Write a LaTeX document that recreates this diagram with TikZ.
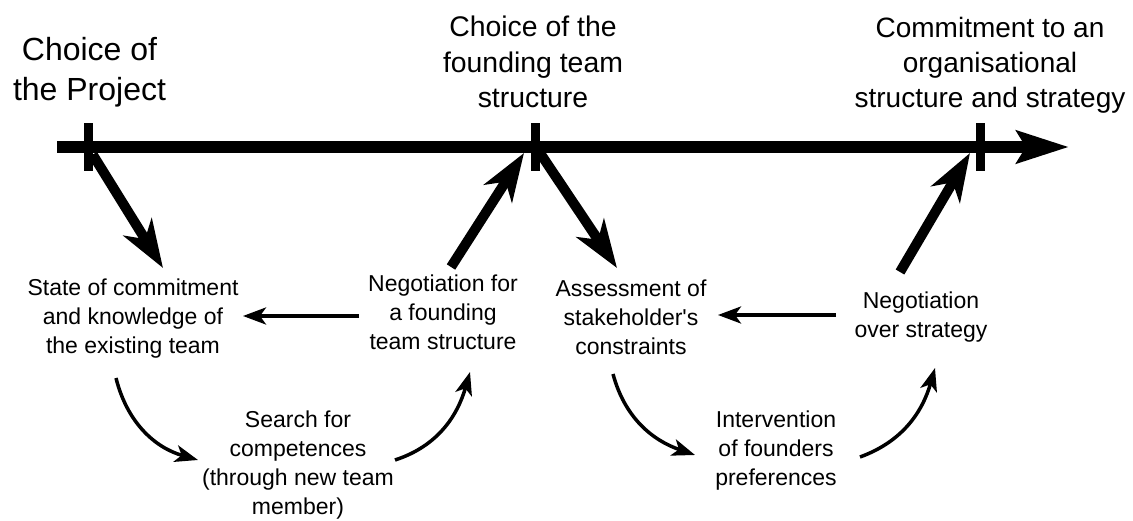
\documentclass[tikz,border=0pt]{standalone}
\usepackage{fontspec}
\setmainfont{Liberation Sans}
\usetikzlibrary{
  arrows.meta,
  chains,
  scopes
}
\begin{document}
\begin{tikzpicture}[
      x=1pt,y=1pt,
      stage/.style={
         align=center,
         inner sep=0pt,
         font=\fontsize{28.4}{35.6}\selectfont
      },
      activity/.style={
         align=center,
         inner sep=0pt,
         font=\fontsize{23}{29}\selectfont
      },
      tick/.style={
         rectangle,
         fill=black,
         inner sep=0pt,
         minimum width=9pt,
         minimum height=48pt
      },
      point/.style={coordinate},
      timeline/.style={line width=12pt,-{Stealth[length=52pt,width=32pt,inset=9pt]}},
      big tip/.style={line width=10pt,-{Stealth[length=48pt,width=33pt,inset=14pt]}},
      tip/.style={line width=3.5pt,-{Stealth[length=23pt,width=17pt,inset=6pt]}},
    ]
    \path[fill=white] (0,0) rectangle (1133,520);
    \useasboundingbox (0,0) rectangle (1133,520);
    % stages on the time line
    \node (n11) [stage,font=\fontsize{32}{39.7}\selectfont] at (89.5,447.5) {Choice of\\the Project};
    \node (n12) [stage] at (533,458) {Choice of the\\founding team\\structure};
    \node (n13) [stage,font=\fontsize{28}{35}\selectfont] at (990,455.2) {Commitment to an\\organisational\\structure and strategy};
    \node (n20) [point] at (57,373) {};
    \node (n21) [tick] at (88,373) {};
    \node (n22) [point] at (524,367) {};
    \node (n23) [tick] at (535,373) {};
    \node (n24) [point] at (540,367) {};
    \node (n25) [point] at (970,367) {};
    \node (n26) [tick] at (980,373) {};
    \node (n27) [point] at (1069,373) {};
    \node (n31) [point] at (163,252) {};
    \node (n32) [point] at (451,253) {};
    \node (n33) [point] at (617,252) {};
    \node (n34) [point] at (900,248) {};
    % activities
    \node (n41) [activity] at (133,201) {State of commitment\\and knowledge of\\the existing team};
    \node (n42) [activity] at (443,207.4) {Negotiation for\\a founding\\team structure};
    \node (n43) [activity] at (631,202.4) {Assessment of\\stakeholder\textquotesingle s\\constraints};
    \node (n44) [activity] at (921,203) {Negotiation\\over strategy};
    \node (n45) [point] at (359,204) {};
    \node (n46) [point] at (243,204) {};
    \node (n47) [point] at (836,205) {};
    \node (n48) [point] at (718,205) {};
    \node (n51) [point] at (116,142) {};
    \node (n52) [point] at (470,148) {};
    \node (n53) [point] at (613,146) {};
    \node (n54) [point] at (935,152) {};
    \node (n61) [point] at (198,60) {};
    \node (n62) [activity] at (298,54.5) {Search for\\competences\\(through new team\\member)};
    \node (n63) [point] at (395,60) {};
    \node (n64) [point] at (695,65) {};
    \node (n65) [activity] at (776,69.5) {Intervention\\of founders\\preferences};
    \node (n66) [point] at (860,63) {};
  { [start chain]
       \chainin (n20);
       \chainin (n27)    [join=by timeline];
  }
  { [start chain]
       \chainin (n21);
       \chainin (n31)    [join=by big tip];
  }
  { [start chain]
       \chainin (n32);
       \chainin (n22)    [join=by big tip];
  }
  { [start chain]
       \chainin (n24);
       \chainin (n33)    [join=by big tip];
  }
  { [start chain]
       \chainin (n34);
       \chainin (n25)    [join=by big tip];
  }
  { [start chain]
       \chainin (n45);
       \chainin (n46)    [join=by tip];
  }
  { [start chain]
       \chainin (n47);
       \chainin (n48)    [join=by tip];
  }
  { [start chain]
       \chainin (n51);
       \chainin (n61)    [join=by {tip,out=-76,in=164}];
  }
  { [start chain]
       \chainin (n63);
       \chainin (n52)    [join=by {tip,out=18,in=-106}];
  }
  { [start chain]
       \chainin (n53);
       \chainin (n64)    [join=by {tip,out=-75,in=161}];
  }
  { [start chain]
       \chainin (n66);
       \chainin (n54)    [join=by {tip,out=20,in=-106}];
  }
\end{tikzpicture}
\end{document}
